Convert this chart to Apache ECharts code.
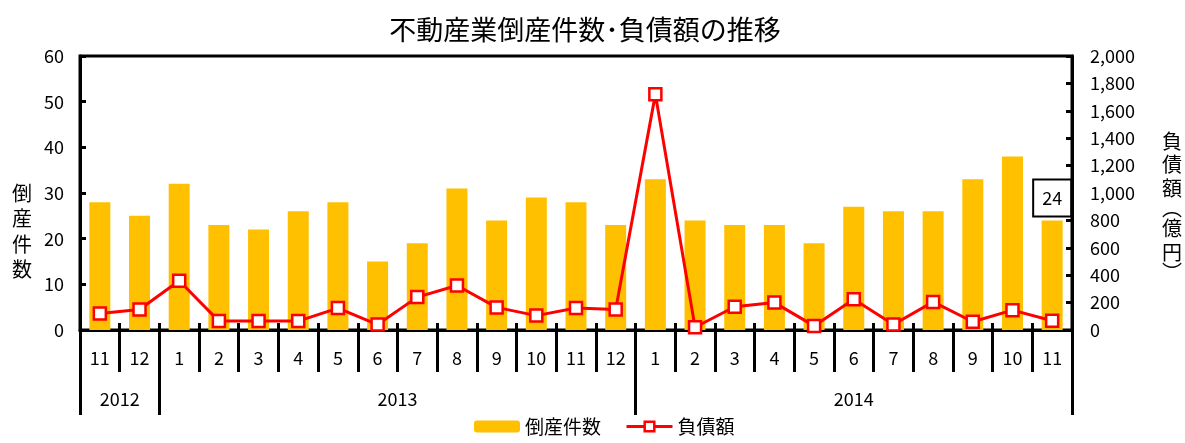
<!DOCTYPE html>
<html><head><meta charset="utf-8">
<script src="https://cdn.jsdelivr.net/npm/echarts@6/dist/echarts.min.js"></script>
<style>html,body{margin:0;padding:0;background:#fff}#c{width:1185px;height:443px}</style>
</head><body><div id="c"></div>
<script>
var months = ['11','12','1','2','3','4','5','6','7','8','9','10','11','12','1','2','3','4','5','6','7','8','9','10','11'];
var years = ['2012','2013','2014'];
var yearSpans = [2, 12, 11];
var bankruptcies = [28,25,32,23,22,26,28,15,19,31,24,29,28,23,33,24,23,23,19,27,26,26,33,38,24];
var liabilities = [120,150,360,65,65,65,160,40,240,325,165,105,160,150,1720,20,170,200,30,225,40,205,60,145,68];
var leftTicks = [0,10,20,30,40,50,60];
var rightTicks = [0,200,400,600,800,1000,1200,1400,1600,1800,2000];

var bounds = [0]; yearSpans.forEach(function(s){ bounds.push(bounds[bounds.length-1]+s); });
var yearCenters = yearSpans.map(function(s,i){ return bounds[i] + s/2; });

var FONT = "'Noto Sans CJK JP', 'Noto Sans', sans-serif";
var barData = bankruptcies.map(function(v,i){
  if (i === bankruptcies.length-1) {
    return {value: v, label: {show: true, position: 'top', distance: 5, color:'#000', fontSize: 18, fontFamily: FONT,
      backgroundColor:'#fff', borderColor:'#000', borderWidth:2, padding:[9,8,8,8]}};
  }
  return v;
});

var chart = echarts.init(document.getElementById('c'));
chart.setOption({
  animation: false,
  textStyle: {fontFamily: FONT, color: '#000'},
  title: {text: '不動産業倒産件数･負債額の推移', left: 580, textAlign: 'center', top: 11,
    textStyle: {fontSize: 27, fontWeight: 'normal', color: '#000', fontFamily: FONT}},
  legend: {bottom: 2, left: 469, itemGap: 24, itemWidth: 46, itemHeight: 12,
    textStyle: {fontSize: 19, color: '#000', fontFamily: FONT},
    data: [{name: '倒産件数'}, {name: '負債額', lineStyle: {width: 3, color: '#FF0000'},
      itemStyle: {color: '#fff', borderColor: '#FF0000', borderWidth: 2.5}}]},
  grid: {left: 80, right: 111, top: 56, bottom: 113, show: true, borderColor: '#000', borderWidth: 3, backgroundColor: 'transparent'},
  xAxis: [
    {type: 'category', data: months, position: 'bottom',
      axisLine: {show: true, lineStyle: {color: '#000', width: 3}},
      axisTick: {show: true, length: 42, interval: 0, lineStyle: {color: '#000', width: 3}},
      axisLabel: {interval: 0, margin: 19, fontSize: 18, color: '#000', fontFamily: FONT},
      splitLine: {show: false}},
    {type: 'category', data: months, position: 'bottom',
      axisLine: {show: false},
      axisTick: {show: true, inside: true, length: 7, interval: 0, lineStyle: {color: '#000', width: 3}},
      axisLabel: {show: false}, splitLine: {show: false}},
    {type: 'value', position: 'bottom', min: 0, max: bounds[bounds.length-1],
      axisLine: {show: false},
      axisTick: {show: true, length: 85, customValues: bounds, lineStyle: {color: '#000', width: 3}},
      axisLabel: {show: true, margin: 60, fontSize: 18, color: '#000', fontFamily: FONT, customValues: yearCenters,
        formatter: function(v){ for (var i=0;i<yearCenters.length;i++){ if (Math.abs(yearCenters[i]-v)<1e-6) return years[i]; } return ''; }},
      splitLine: {show: false}}
  ],
  yAxis: [
    {type: 'value', min: leftTicks[0], max: leftTicks[leftTicks.length-1], interval: 10,
      name: '{s| }\n{s| }\n{s| }\n{a|倒}\n{a|産}\n{a|件}\n{a|数}', nameLocation: 'middle', nameRotate: 0, nameGap: 48,
      nameTextStyle: {fontSize: 20, color: '#000', fontFamily: FONT,
        rich: {a: {fontSize: 20, lineHeight: 25.5, fontFamily: FONT, color: '#000'}, s: {fontSize: 20, lineHeight: 25.5}}},
      axisLine: {show: true, lineStyle: {color: '#000', width: 3}},
      axisTick: {show: true, inside: true, length: 6, lineStyle: {color: '#000', width: 3}},
      axisLabel: {margin: 16, fontSize: 18, color: '#000', fontFamily: FONT},
      splitLine: {show: false}},
    {type: 'value', min: rightTicks[0], max: rightTicks[rightTicks.length-1], interval: 200, position: 'right',
      name: '{s| }\n{a|負}\n{a|債}\n{a|額}\n{p|︵}\n{a|億}\n{a|円}\n{p|︶}', nameLocation: 'middle', nameRotate: 0, nameGap: 90,
      nameTextStyle: {fontSize: 20, color: '#000', fontFamily: FONT,
        rich: {a: {fontSize: 20, lineHeight: 23.5, fontFamily: FONT, color: '#000'},
               p: {fontSize: 20, lineHeight: 17, fontFamily: FONT, color: '#000'},
               s: {fontSize: 20, lineHeight: 24}}},
      axisLine: {show: true, lineStyle: {color: '#000', width: 3}},
      axisTick: {show: true, inside: true, length: 6, lineStyle: {color: '#000', width: 3}},
      axisLabel: {margin: 18, fontSize: 18, color: '#000', fontFamily: FONT,
        formatter: function(v){ return v.toLocaleString('en-US'); }},
      splitLine: {show: false}}
  ],
  series: [
    {name: '倒産件数', type: 'bar', xAxisIndex: 0, yAxisIndex: 0, data: barData, barWidth: 21,
      itemStyle: {color: '#FFC000'}, z: 2},
    {name: '負債額', type: 'line', xAxisIndex: 0, yAxisIndex: 1, data: liabilities,
      symbol: 'rect', symbolSize: 12, showAllSymbol: true,
      lineStyle: {color: '#FF0000', width: 3},
      itemStyle: {color: '#fff', borderColor: '#FF0000', borderWidth: 2.5}, z: 3}
  ]
});
</script></body></html>
